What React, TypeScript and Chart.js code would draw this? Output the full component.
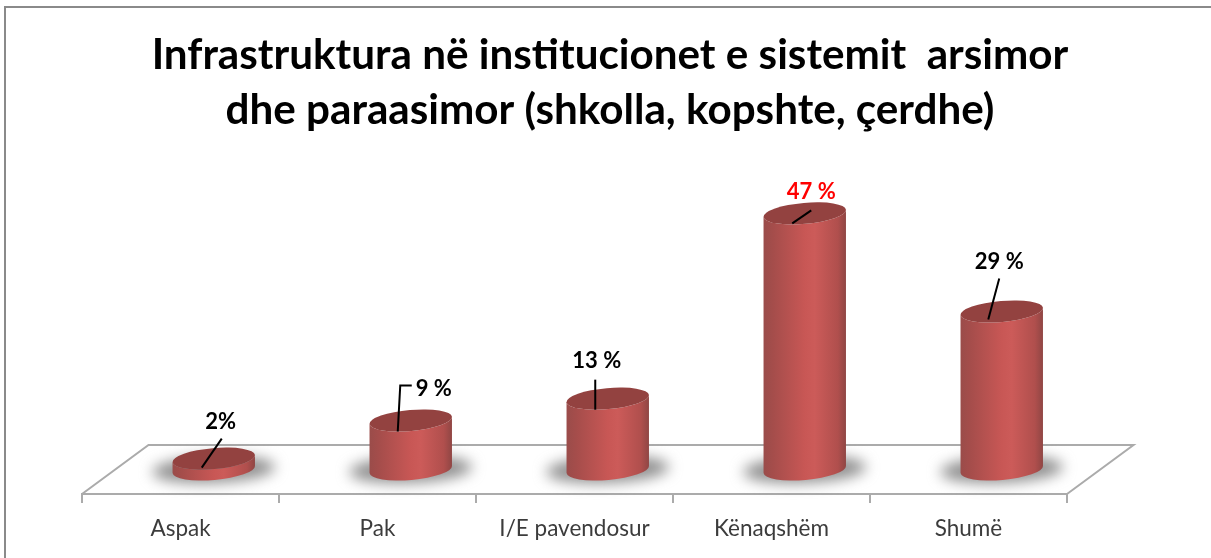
import React, { useEffect, useRef } from "react";
import { Chart, registerables } from "chart.js";

Chart.register(...registerables);

const categories = ["Aspak", "Pak", "I/E pavendosur", "Kënaqshëm", "Shumë"];
const values = [2, 9, 13, 47, 29];
const valueLabels = ["2%", "9 %", "13 %", "47 %", "29 %"];
const titleLines = [
  "Infrastruktura në institucionet e sistemit  arsimor",
  "dhe paraasimor (shkolla, kopshte, çerdhe)",
];

// Drawing layout (offsets from each cylinder's top centre), not data.
const LEADERS: [number, number][][] = [
  [[-12, 9], [8, -20]],
  [[-13, 11], [-10.5, -35], [1, -35]],
  [[-12.5, 11], [-12.5, -19]],
  [[-12.5, 10], [6.5, -3]],
  [[-13.5, 8], [-2.5, -33]],
];
const LABEL_OFFSETS: [number, number][] = [
  [7, -37],
  [23, -32],
  [-11, -38],
  [6.5, -21],
  [-2.5, -50],
];
const LABEL_COLORS = ["#000", "#000", "#000", "#ff0000", "#000"];

const DEPTH_X = 66.5;
const DEPTH_Y = 49;
const TILT = (-5 * Math.PI) / 180;
const EL_B = 10.5;

const cylinders = {
  id: "cylinders",
  beforeDraw(chart: any) {
    const { ctx, width, height } = chart;
    ctx.save();
    ctx.fillStyle = "#fff";
    ctx.fillRect(0, 0, width, height);
    ctx.strokeStyle = "#8a8a8a";
    ctx.lineWidth = 2;
    ctx.strokeRect(5, 7, width + 50, height + 50);
    ctx.restore();
  },
  beforeDatasetsDraw(chart: any) {
    const { ctx, chartArea } = chart;
    const { left, right, bottom } = chartArea;
    ctx.save();
    ctx.strokeStyle = "#ababab";
    ctx.lineWidth = 2;
    ctx.beginPath();
    ctx.moveTo(left, bottom);
    ctx.lineTo(left + DEPTH_X, bottom - DEPTH_Y);
    ctx.lineTo(right + DEPTH_X, bottom - DEPTH_Y);
    ctx.lineTo(right, bottom);
    ctx.stroke();
    ctx.restore();
  },
  afterDatasetsDraw(chart: any) {
    const { ctx } = chart;
    const bars = chart.getDatasetMeta(0).data;
    const sx = DEPTH_X / 2;
    const sy = DEPTH_Y / 2;
    bars.forEach((bar: any) => {
      const p = bar.getProps(["x", "base", "width"], true);
      const a = p.width / 2;
      const cx = p.x + sx;
      const by = p.base - sy;
      ctx.save();
      ctx.filter = "blur(7px)";
      ctx.fillStyle = "rgba(125,125,125,0.85)";
      ctx.beginPath();
      ctx.ellipse(cx, by, a + 20, EL_B + 3, TILT / 2, 0, Math.PI * 2);
      ctx.fill();
      ctx.restore();
    });
    bars.forEach((bar: any, i: number) => {
      const p = bar.getProps(["x", "y", "base", "width"], true);
      const a = p.width / 2;
      const cx = p.x + sx;
      const ty = p.y - sy;
      const by = p.base - sy;
      const g = ctx.createLinearGradient(cx - a, 0, cx + a, 0);
      g.addColorStop(0, "#9a4c4a");
      g.addColorStop(0.12, "#a54d4b");
      g.addColorStop(0.5, "#c85755");
      g.addColorStop(0.62, "#cc5b59");
      g.addColorStop(0.9, "#b04f4d");
      g.addColorStop(1, "#8f4644");
      ctx.save();
      ctx.fillStyle = g;
      ctx.beginPath();
      ctx.ellipse(cx, ty, a, EL_B, TILT, Math.PI, 0, true);
      ctx.ellipse(cx, by, a, EL_B, TILT, 0, Math.PI, false);
      ctx.closePath();
      ctx.fill();
      ctx.fillStyle = "#934240";
      ctx.beginPath();
      ctx.ellipse(cx, ty, a, EL_B, TILT, 0, Math.PI * 2);
      ctx.fill();

      ctx.strokeStyle = "#000";
      ctx.lineWidth = 2;
      ctx.beginPath();
      LEADERS[i].forEach(([dx, dy], k) => {
        if (k === 0) ctx.moveTo(cx + dx, ty + dy);
        else ctx.lineTo(cx + dx, ty + dy);
      });
      ctx.stroke();

      const [lx, ly] = LABEL_OFFSETS[i];
      ctx.font = "bold 22px Lato";
      ctx.fillStyle = LABEL_COLORS[i];
      ctx.textAlign = "center";
      ctx.textBaseline = "middle";
      ctx.fillText(valueLabels[i], cx + lx, ty + ly);
      ctx.restore();
    });
  },
};

export default function App() {
  const ref = useRef<HTMLCanvasElement>(null);
  useEffect(() => {
    document.body.style.margin = "0";
    const chart = new Chart(ref.current as HTMLCanvasElement, {
      type: "bar",
      data: {
        labels: categories,
        datasets: [
          {
            label: "Infrastruktura",
            data: values,
            backgroundColor: "rgba(0,0,0,0)",
            borderWidth: 0,
            categoryPercentage: 1,
            barPercentage: 0.42,
          },
        ],
      },
      options: {
        animation: false,
        responsive: false,
        layout: { padding: { left: 9, right: 0, top: 0, bottom: 0 } },
        plugins: {
          legend: { display: false },
          tooltip: { enabled: false },
          title: {
            display: true,
            text: titleLines,
            color: "#000",
            font: { family: "Lato", weight: "bold", size: 42.2, lineHeight: 55 / 42.2 },
            padding: { top: 28, bottom: 83.5 },
          },
        },
        scales: {
          x: {
            offset: true,
            afterFit: (s: any) => {
              s.height = 64;
            },
            border: { color: "#ababab", width: 2 },
            grid: { drawOnChartArea: false, color: "#ababab", lineWidth: 2, tickLength: 9, offset: true },
            ticks: { color: "#3c3c3c", font: { family: "Lato", size: 22.5 }, padding: 12, maxRotation: 0, autoSkip: false },
          },
          y: {
            min: 0,
            max: 50,
            afterFit: (s: any) => {
              s.width = 73;
            },
            border: { display: false },
            grid: { display: false },
            ticks: { display: false },
          },
          y1: {
            position: "right",
            min: 0,
            max: 50,
            afterFit: (s: any) => {
              s.width = 144;
            },
            border: { display: false },
            grid: { display: false },
            ticks: { display: false },
          },
        },
      },
      plugins: [cylinders],
    } as any);
    return () => chart.destroy();
  }, []);
  return (
    <div style={{ width: 1211, height: 558 }}>
      <canvas ref={ref} width={1211} height={558} style={{ display: "block" }} />
    </div>
  );
}
